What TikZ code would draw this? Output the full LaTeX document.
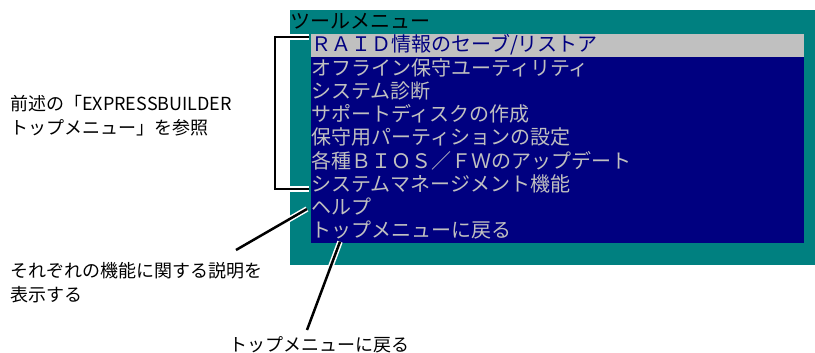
\documentclass[tikz,border=0pt]{standalone}
\usepackage{fontspec}
\usepackage{xcolor}
\usepackage{tikz}
\newfontfamily\jpfont{Noto Sans CJK JP}
\definecolor{screenteal}{HTML}{008080}
\definecolor{screennavy}{HTML}{000080}
\definecolor{screengrey}{HTML}{C0C0C0}

\begin{document}
\begin{tikzpicture}[x=1pt, y=-1pt,
  menuitem/.style={anchor=west, inner sep=0pt, minimum height=23pt, text=screengrey, font=\jpfont\fontsize{20}{23}\selectfont},
  note/.style={align=left, inner sep=0pt, font=\jpfont\fontsize{18}{24}\selectfont},
  leader/.style={line width=2.5pt, preaction={draw=white, line width=5.5pt}}]
  \useasboundingbox (0,0) rectangle (815,353);
  \fill[screenteal] (290,10) rectangle (815,265);
  \fill[screennavy] (311,34) rectangle (804,243);
  \fill[screengrey] (311,34) rectangle (804,57);
  \node[menuitem, text=black] (title) at (290,21) {ツールメニュー};
  \node[menuitem, text=screennavy] (raid) at (311,45) {ＲＡＩＤ情報のセーブ/リストア};
  \node[menuitem] (offline) at (311,68) {オフライン保守ユーティリティ};
  \node[menuitem] (diag) at (311,91) {システム診断};
  \node[menuitem] (disk) at (311,114) {サポートディスクの作成};
  \node[menuitem] (part) at (311,137) {保守用パーティションの設定};
  \node[menuitem] (update) at (311,161) {各種ＢＩＯＳ／ＦＷのアップデート};
  \node[menuitem] (sysman) at (311,184) {システムマネージメント機能};
  \node[menuitem] (help) at (311,207) {ヘルプ};
  \node[menuitem] (top) at (311,230) {トップメニューに戻る};
  % notes
  \node[note, anchor=north west] (refnote) at (10,95) {前述の「EXPRESSBUILDER\\トップメニュー」を参照};
  \node[note, anchor=north west] (helpnote) at (10,262) {それぞれの機能に関する説明を\\表示する};
  \node[note, anchor=north] (topnote) at (319,336) {トップメニューに戻る};
  \coordinate (helptip) at (236,250);
  \draw[leader] ([xshift=-2pt, yshift=8pt]raid.west) -- ++(-34,0) |- ([xshift=-2pt, yshift=-5pt]sysman.west);
  \draw[leader] (helptip) -- ([xshift=-4pt, yshift=-2pt]help.west);
  \draw[leader] ([shift={(-12pt,6pt)}]topnote.north) -- ([xshift=29pt]top.south west);
\end{tikzpicture}
\end{document}
